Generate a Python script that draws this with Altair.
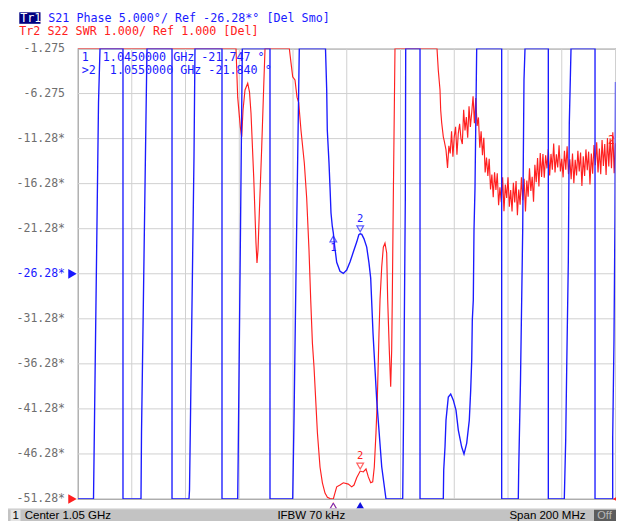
import altair as alt
import pandas as pd

# ---------------- data (frequency in MHz) ----------------
# Tr1: S21 phase (deg), shown clamped to the display window [-51.275, -1.275]
blue_f = [950.0, 955.77, 956.14, 957.63, 958.19,
          966.74, 966.74, 973.44, 973.63, 975.30, 975.67,
          984.98, 984.98, 991.30, 991.49, 993.16, 993.53,
          1003.58, 1003.58, 1009.42, 1009.61, 1011.14,
          1021.44, 1021.44, 1029.89, 1030.37, 1031.12, 1032.34,
          1042.09, 1042.54, 1042.76, 1043.40, 1043.77, 1044.14, 1044.62, 1045.0, 1045.5,
          1046.26, 1047.49, 1048.72, 1049.98, 1051.21, 1052.44, 1053.70, 1054.5, 1055.0,
          1055.6, 1056.42, 1057.43, 1058.28, 1058.91, 1059.77, 1061.15, 1063.01, 1064.60,
          1070.82, 1071.12, 1071.79, 1071.94,
          1077.26, 1077.26, 1085.93, 1086.08, 1086.56, 1086.93, 1087.79, 1088.68, 1089.65,
          1090.65, 1091.51, 1092.77, 1093.63, 1094.64, 1095.60, 1096.12, 1096.50, 1096.72,
          1097.09, 1097.35, 1097.72, 1098.35,
          1107.65, 1107.65, 1113.83, 1113.98, 1114.65, 1115.09, 1115.47, 1115.95, 1116.33,
          1125.0, 1125.0, 1130.95, 1131.47, 1131.85, 1132.44, 1132.81, 1133.45,
          1142.38, 1142.38, 1148.96, 1148.96, 1149.44, 1149.8, 1150.0]
blue_v = [-51.275, -51.275, -42.52, -7.33, -1.275,
          -1.275, -51.275, -51.275, -43.96, -8.88, -1.275,
          -1.275, -51.275, -51.275, -50.29, -13.33, -1.275,
          -1.275, -51.275, -51.275, -46.51, -1.275,
          -1.275, -51.275, -51.275, -42.52, -26.20, -1.275,
          -1.275, -5.89, -10.33, -14.0, -16.66, -19.54, -21.0, -21.747, -23.2,
          -25.0, -26.0, -26.24, -25.87, -24.98, -23.87, -22.76, -21.95, -21.84,
          -21.9, -22.4, -23.32, -25.09, -26.76, -32.86, -40.30, -47.70, -51.275,
          -51.275, -42.52, -18.1, -1.275,
          -1.275, -51.275, -51.275, -48.07, -45.51, -42.52, -39.96, -39.63, -40.30,
          -41.41, -43.63, -45.51, -46.29, -45.07, -42.52, -39.19, -35.86, -31.42,
          -29.20, -21.43, -16.77, -1.275,
          -1.275, -51.275, -51.275, -48.07, -38.08, -29.20, -21.43, -4.78, -1.275,
          -1.275, -51.275, -51.275, -44.74, -36.63, -25.0, -9.55, -1.275,
          -1.275, -51.275, -51.275, -44.40, -33.64, -20.0, -5.0]

# Tr2: S22 SWR, clamped to the display window [1, 11]
red_f = [950.0, 1008.79, 1009.42, 1010.39, 1010.91, 1011.40, 1012.14, 1013.15, 1013.82,
         1014.37, 1015.38, 1016.23, 1016.60, 1016.98, 1017.46, 1018.36, 1019.10, 1019.59,
         1028.63, 1029.26, 1029.89, 1030.74, 1031.49, 1032.12, 1032.98, 1034.21, 1035.09,
         1035.95, 1036.59, 1037.22, 1037.82, 1038.45, 1039.08, 1040.05, 1040.94, 1041.91,
         1042.80, 1043.77, 1045.0, 1045.6, 1046.26, 1047.49, 1048.72, 1050.58, 1051.84,
         1052.70, 1053.70, 1055.0, 1056.17, 1057.17, 1058.03, 1058.91, 1059.66, 1060.25,
         1060.88, 1061.37, 1062.0, 1062.38, 1063.01, 1063.61, 1064.23, 1064.86, 1065.23,
         1065.83, 1066.35, 1066.72, 1066.94, 1067.32, 1067.95,
         1083.58, 1084.06, 1084.70, 1084.96, 1085.33, 1085.93, 1086.19, 1086.93]
red_s = [11, 11, 9.92, 9.26, 9.04, 9.63, 10.08, 10.23, 10.03,
         9.57, 8.15, 6.68, 6.24, 6.53, 7.35, 8.81, 10.15, 11,
         11, 10.68, 10.37, 10.30, 9.92, 9.80, 9.18, 8.46, 7.68,
         6.53, 5.42, 4.46, 3.93, 3.20, 2.47, 1.71, 1.36, 1.13,
         1.04, 1.01, 1.00, 1.13, 1.27, 1.31, 1.36, 1.33, 1.27,
         1.31, 1.47, 1.62, 1.60, 1.67, 1.49, 1.36, 1.38, 1.71,
         2.47, 3.20, 4.68, 5.42, 6.15, 6.59, 6.68, 6.46, 5.42,
         4.31, 3.49, 4.31, 5.42, 7.64, 11,
         11, 10.52, 10.08, 9.63, 9.35, 9.04, 8.97, 8.75]
# noisy tail of Tr2, one reading every 0.5 MHz from 1087.5 to 1150 MHz
red_tail_f = [1087.5 + 0.5 * i for i in range(126)]
red_tail_s = [8.35, 8.84, 8.67, 9.16, 8.60, 9.04, 9.26, 8.64, 9.12, 9.33,
              9.00, 8.88, 9.64, 9.18, 9.48, 9.02, 9.72, 9.26, 9.58, 9.94,
              9.34, 9.90, 9.28, 9.47, 8.80, 9.16, 8.63, 9.02, 8.25, 8.58,
              8.17, 8.55, 7.87, 8.20, 7.70, 8.25, 7.86, 8.23, 7.52, 7.92,
              7.59, 8.14, 7.39, 7.98, 7.68, 8.14, 7.49, 7.86, 7.38, 8.02,
              7.58, 8.06, 7.30, 7.87, 7.53, 8.14, 7.63, 8.11, 7.38, 8.07,
              7.71, 8.34, 7.84, 8.15, 7.60, 8.42, 8.03, 8.57, 7.94, 8.68,
              8.15, 8.66, 8.13, 8.63, 8.34, 8.77, 8.18, 8.66, 8.31, 8.89,
              8.25, 8.65, 8.36, 8.85, 8.27, 8.55, 8.14, 8.73, 8.31, 8.83,
              8.21, 8.54, 8.10, 8.67, 8.01, 8.53, 8.18, 8.73, 8.27, 8.69,
              7.95, 8.61, 8.17, 8.76, 8.30, 8.71, 7.98, 8.67, 8.22, 8.86,
              8.41, 8.92, 8.25, 8.78, 8.21, 8.97, 8.39, 8.88, 8.19, 9.01,
              8.38, 9.00, 8.34, 9.14, 8.23, 8.90]

# markers
mk_f = [1045.0, 1055.0]
mk_phase = [-21.747, -21.840]
mk_swr = [1.00, 1.62]

# grid / tick values
grid_f = [950, 970, 990, 1010, 1030, 1050, 1070, 1090, 1110, 1130, 1150]
tick_v = [-1.275, -6.275, -11.275, -16.275, -21.275, -26.275, -31.275, -36.275,
          -41.275, -46.275, -51.275]
tick_lab = ["-1.275", "-6.275", "-11.28*", "-16.28*", "-21.28*", "-26.28*", "-31.28*",
            "-36.28*", "-41.28*", "-46.28*", "-51.28*"]

# ---------------- styling ----------------
BLUE = "#1a1aff"
RED = "#ff2020"
GRID = "#d0d0d0"
MONO = "DejaVu Sans Mono"
SANS = "Liberation Sans"
NB = "\u00a0"
OX, OY = 78.0, 48.5          # plot-area origin on the page
W, H = 537.5, 450.5
PAGE_R, PAGE_B = 616.0, 521.0   # last drawable page pixel (8px body margin)


def rx(x):
    return x - OX


def ry(y):
    return y - OY


xs = alt.Scale(domain=[950, 1150], nice=False, zero=False)
ysb = alt.Scale(domain=[-51.275, -1.275], nice=False, zero=False)
ysr = alt.Scale(domain=[1, 11], nice=False, zero=False)

blue_df = pd.DataFrame({"f": blue_f, "v": blue_v, "i": range(len(blue_f))})
red_df = pd.DataFrame({"f": red_f + red_tail_f, "s": red_s + red_tail_s,
                       "i": range(len(red_f) + len(red_tail_f))})
mk_df = pd.DataFrame({"f": mk_f, "v": mk_phase, "s": mk_swr, "n": ["1", "2"]})
grid_df = pd.DataFrame({"f": grid_f})
tick_df = pd.DataFrame({"v": tick_v, "lab": tick_lab})


def text(t, x, y, color, size=11.7, font=MONO, align="left", weight="normal"):
    return alt.Chart(pd.DataFrame({"t": [t.replace(" ", NB)]})).mark_text(
        align=align, baseline="middle", font=font, fontSize=size, color=color,
        fontWeight=weight
    ).encode(x=alt.value(rx(x)), y=alt.value(ry(y)), text="t:N")


def rect(x1, x2, y1, y2, color):
    return alt.Chart(pd.DataFrame({"a": [0]})).mark_rect(color=color).encode(
        x=alt.value(rx(x1)), x2=alt.value(rx(x2)), y=alt.value(ry(y1)), y2=alt.value(ry(y2))
    )


def sym(shape, x, y, color, size=90, filled=True):
    return alt.Chart(pd.DataFrame({"a": [0]})).mark_point(
        shape=shape, filled=filled, size=size, color=color, opacity=1, strokeWidth=1
    ).encode(x=alt.value(rx(x)), y=alt.value(ry(y)))


# grid
vgrid = alt.Chart(grid_df).mark_rule(color=GRID, strokeWidth=1).encode(
    x=alt.X("f:Q", scale=xs, axis=None))
hgrid = alt.Chart(tick_df).mark_rule(color=GRID, strokeWidth=1).encode(
    y=alt.Y("v:Q", scale=ysb, axis=None))

# y labels
ylabels = alt.Chart(tick_df).mark_text(
    align="right", baseline="middle", font=MONO, fontSize=11.5
).encode(
    x=alt.value(rx(65)),
    y=alt.Y("v:Q", scale=ysb, axis=None),
    text="lab:N",
    color=alt.condition(alt.datum.lab == "-26.28*", alt.value(BLUE), alt.value("#6e6e6e")),
)

# traces
red_line = alt.Chart(red_df).mark_line(color=RED, strokeWidth=1.15, clip=True).encode(
    x=alt.X("f:Q", scale=xs, axis=None),
    y=alt.Y("s:Q", scale=ysr, axis=None),
    order="i:Q",
)
blue_line = alt.Chart(blue_df).mark_line(color=BLUE, strokeWidth=1.35, clip=True).encode(
    x=alt.X("f:Q", scale=xs, axis=None),
    y=alt.Y("v:Q", scale=ysb, axis=None),
    order="i:Q",
)

# markers on Tr1
m1 = mk_df[mk_df.n == "1"]
m2 = mk_df[mk_df.n == "2"]
b_m1 = alt.Chart(m1).mark_point(shape="triangle-up", filled=False, size=45, color=BLUE,
                                strokeWidth=1.2, yOffset=6).encode(
    x=alt.X("f:Q", scale=xs, axis=None), y=alt.Y("v:Q", scale=ysb, axis=None))
b_m1t = alt.Chart(m1).mark_text(color=BLUE, font=MONO, fontSize=10.5, dy=15).encode(
    x=alt.X("f:Q", scale=xs, axis=None), y=alt.Y("v:Q", scale=ysb, axis=None), text="n:N")
b_m2 = alt.Chart(m2).mark_point(shape="triangle-down", filled=False, size=45, color=BLUE,
                                strokeWidth=1.2, yOffset=-5).encode(
    x=alt.X("f:Q", scale=xs, axis=None), y=alt.Y("v:Q", scale=ysb, axis=None))
b_m2t = alt.Chart(m2).mark_text(color=BLUE, font=MONO, fontSize=10.5, dy=-15).encode(
    x=alt.X("f:Q", scale=xs, axis=None), y=alt.Y("v:Q", scale=ysb, axis=None), text="n:N")

# markers on Tr2
r_m2 = alt.Chart(m2).mark_point(shape="triangle-down", filled=False, size=45, color=RED,
                                strokeWidth=1.2, yOffset=-5).encode(
    x=alt.X("f:Q", scale=xs, axis=None), y=alt.Y("s:Q", scale=ysr, axis=None))
r_m2t = alt.Chart(m2).mark_text(color=RED, font=MONO, fontSize=10.5, dy=-15).encode(
    x=alt.X("f:Q", scale=xs, axis=None), y=alt.Y("s:Q", scale=ysr, axis=None), text="n:N")
r_m1 = alt.Chart(m1).mark_point(shape="triangle-up", filled=False, size=45, color=RED,
                                strokeWidth=1.2, yOffset=7).encode(
    x=alt.X("f:Q", scale=xs, axis=None), y=alt.Y("s:Q", scale=ysr, axis=None))
b_m1b = alt.Chart(m1).mark_point(shape="triangle-up", filled=False, size=45, color=BLUE,
                                 strokeWidth=1.0, yOffset=7).encode(
    x=alt.X("f:Q", scale=xs, axis=None), y=alt.Y("s:Q", scale=ysr, axis=None))
act = alt.Chart(m2).mark_point(shape="triangle-up", filled=True, size=90, color="#1010e0",
                               opacity=1, yOffset=7).encode(
    x=alt.X("f:Q", scale=xs, axis=None), y=alt.value(H))

# header
hdr = [
    rect(19.3, 40.5, 12.3, 23.8, "#000080"),
    text("Tr1", 20.2, 18.2, "white"),
    text("S21 Phase 5.000°/ Ref -26.28*° [Del Smo]", 48.3, 18.2, BLUE),
    text("Tr2 S22 SWR 1.000/ Ref 1.000 [Del]", 19.3, 31.0, RED),
    text(" 1  1.0450000 GHz -21.747 °", 81.7, 56.7, BLUE),
    text(">2  1.0550000 GHz -21.840 °", 81.7, 69.5, BLUE),
]

# reference arrows and trace labels
arrows = [
    sym("triangle-right", 72.5, 273.8, BLUE, 95),
    sym("triangle-right", 72.5, 499.0, RED, 95),
    sym("triangle-left", 617.0, 499.0, RED, 95),
    text("2", 608.0, 141.0, RED, 11.5),
]

# status bar (squeezed into the drawable area above the page margin)
status = [
    rect(8, PAGE_R, 508.5, PAGE_B, "#c3c3c3"),
    rect(8, PAGE_R, 508.5, 509.3, "#e8e8e8"),
    rect(10.5, 20.5, 509.8, PAGE_B, "#e4e4e4"),
    text("1", 12.5, 515.5, "black", 11.5, SANS),
    text("Center 1.05 GHz", 24.7, 515.5, "black", 11.5, SANS),
    text("IFBW 70 kHz", 277.4, 515.5, "black", 11.5, SANS),
    text("Span 200 MHz", 585.5, 515.5, "black", 11.5, SANS, align="right"),
    rect(594, PAGE_R, 509.8, PAGE_B, "#5c5c5c"),
    text("Off", 604.5, 515.5, "#b8b8b8", 11, SANS, align="center"),
]

chart = alt.layer(
    vgrid, hgrid, ylabels, red_line, blue_line,
    b_m1, b_m1t, b_m2, b_m2t, r_m2, r_m2t, r_m1, b_m1b, act,
    *hdr, *arrows, *status,
).resolve_scale(y="independent").properties(
    width=W, height=H,
    autosize=alt.AutoSizeParams(type="none"),
    padding={"left": OX - 8, "top": OY - 8, "right": PAGE_R - OX - W,
             "bottom": PAGE_B - OY - H},
    background="white",
).configure_view(stroke="#8a8a8a", strokeWidth=1.2)

chart.save("out.html", embed_options={"renderer": "svg", "actions": False})
